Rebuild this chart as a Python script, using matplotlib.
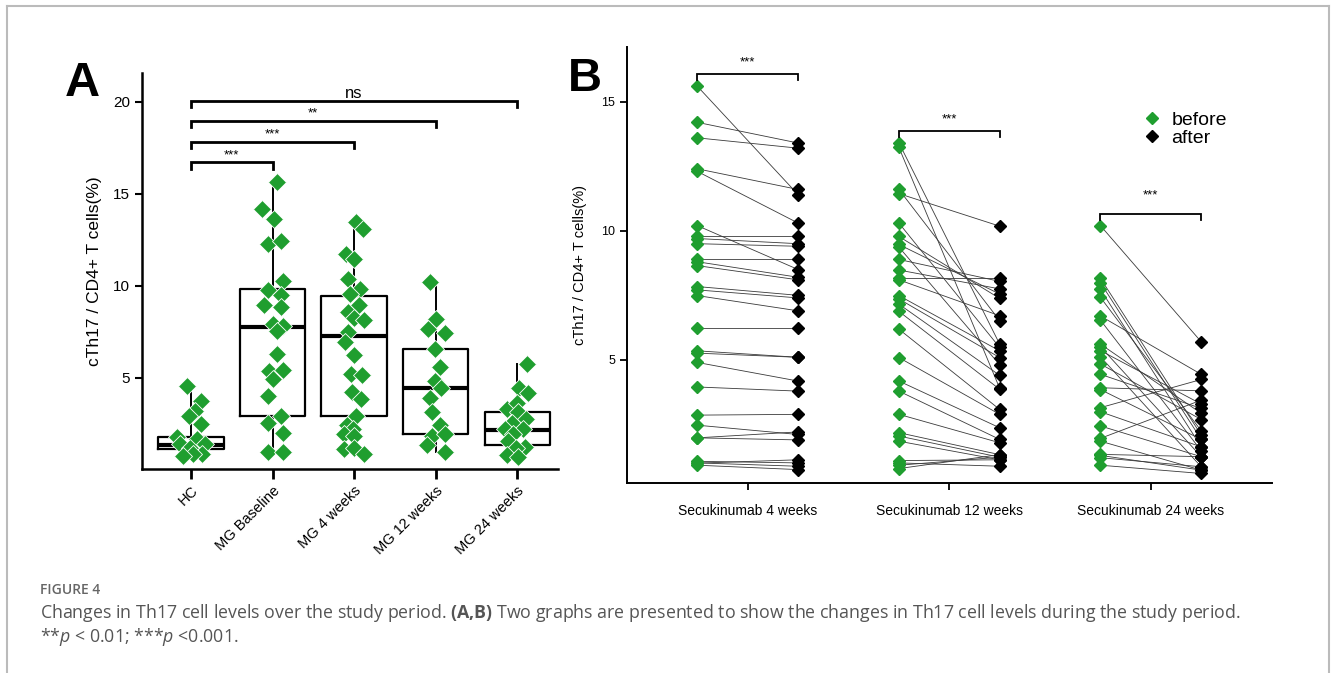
import matplotlib
matplotlib.use('Agg')
import matplotlib.pyplot as plt
import matplotlib.transforms as mtrans
from matplotlib.lines import Line2D

plt.rcParams['font.family'] = ['Liberation Sans', 'DejaVu Sans']
plt.rcParams['mathtext.fontset'] = 'custom'
plt.rcParams['mathtext.rm'] = 'Open Sans'
plt.rcParams['mathtext.it'] = 'Open Sans:italic'
plt.rcParams['mathtext.bf'] = 'Open Sans:bold'

GREEN = '#1f9e2f'

# ---- panel A data ----
groups_a = ['HC', 'MG Baseline', 'MG 4 weeks', 'MG 12 weeks', 'MG 24 weeks']
hc = [4.56, 3.75, 3.2, 2.94, 2.49, 1.77, 1.67, 1.4, 1.4, 1.18, 0.86, 0.86, 0.73]
hc_jit = [-0.05, 0.12, 0.05, -0.03, 0.12, -0.17, 0.07, -0.13, 0.17, -0.01, 0.13, 0.02, -0.1]
baseline = [15.63, 14.19, 13.63, 12.27, 12.42, 10.25, 9.76, 9.52, 8.93, 8.87, 7.9, 7.8,
            7.53, 6.28, 5.37, 5.43, 4.92, 3.99, 2.94, 2.54, 2.0, 0.99, 0.99]
baseline_jit = [0.06, -0.13, 0.02, -0.05, 0.1, 0.13, -0.05, 0.1, -0.1, 0.1, 0.01, 0.13,
                0.06, 0.05, -0.04, 0.13, 0.01, -0.05, 0.1, -0.06, 0.13, -0.05, 0.13]
wk4 = [13.45, 13.1, 11.75, 11.45, 10.34, 9.83, 9.55, 8.93, 8.57, 8.25, 8.12, 7.47, 6.92,
       6.24, 5.19, 5.13, 4.24, 3.84, 2.94, 2.43, 2.2, 1.93, 1.84, 1.15, 1.2, 0.86]
wk4_jit = [0.02, 0.11, -0.1, 0.0, -0.07, 0.07, -0.05, 0.06, -0.07, 0.0, 0.12, -0.07, -0.11,
           0.0, -0.04, 0.1, -0.02, 0.09, 0.02, -0.09, -0.01, -0.12, 0.0, -0.12, 0.0, 0.12]
wk12 = [10.22, 8.21, 7.64, 7.46, 6.55, 5.61, 4.83, 4.47, 3.93, 3.17, 2.43, 1.84, 1.93, 1.34, 0.95]
wk12_jit = [-0.07, 0.01, -0.09, 0.11, -0.01, 0.05, -0.01, 0.07, -0.07, -0.05, 0.05, -0.05,
            0.12, -0.11, 0.11]
wk24 = [5.74, 4.47, 4.2, 3.3, 3.66, 3.12, 2.76, 2.54, 2.22, 2.22, 1.93, 1.57, 1.27, 1.2, 0.8, 0.68]
wk24_jit = [0.12, 0.02, 0.13, -0.12, 0.0, 0.01, 0.11, -0.06, -0.15, 0.07, -0.05, -0.11,
            0.09, -0.01, -0.12, 0.01]

# box statistics
box_q1 = [1.13, 2.92, 2.92, 1.93, 1.35]
box_med = [1.35, 7.76, 7.27, 4.45, 2.18]
box_q3 = [1.77, 9.85, 9.44, 6.55, 3.17]
box_lo = [0.73, 0.99, 0.86, 0.95, 0.68]
box_hi = [4.56, 15.63, 13.45, 10.22, 5.74]

# ---- panel B data (before, after pairs) ----
groups_b = ['Secukinumab 4 weeks', 'Secukinumab 12 weeks', 'Secukinumab 24 weeks']
b4_before = [15.6, 14.2, 13.6, 12.4, 12.3, 10.2, 9.8, 9.7, 9.5, 8.9, 8.8, 8.65, 7.84, 7.71,
             7.49, 6.23, 5.35, 5.26, 4.9, 3.95, 2.86, 2.47, 1.98, 1.98, 1.07, 1.01, 0.92, 1.0]
b4_after = [11.4, 13.4, 13.2, 11.6, 10.3, 8.5, 9.8, 9.5, 9.4, 8.9, 8.2, 8.1, 7.5, 7.4,
            6.9, 6.23, 5.1, 5.1, 4.18, 3.79, 2.89, 2.11, 2.21, 1.9, 1.01, 0.88, 0.75, 1.13]
b12_before = [13.41, 13.23, 11.6, 11.44, 10.3, 9.78, 9.47, 9.37, 8.89, 8.48, 8.17, 8.1, 7.49,
              7.36, 7.16, 6.88, 6.19, 5.09, 4.18, 3.79, 2.89, 2.18, 2.05, 1.85, 1.1, 1.01, 0.92, 0.79]
b12_after = [5.61, 3.9, 6.52, 10.18, 5.48, 7.38, 7.55, 4.81, 8.04, 7.75, 8.17, 6.71, 5.35,
             5.09, 4.4, 3.86, 3.08, 2.89, 2.37, 1.92, 1.79, 1.33, 1.23, 1.13, 1.13, 0.88, 1.23, 1.33]
b24_before = [10.2, 8.16, 7.99, 7.73, 7.42, 6.7, 6.54, 5.61, 5.51, 5.36, 5.12, 4.84, 4.44, 3.92,
              3.85, 3.15, 2.99, 2.44, 1.96, 1.85, 1.34, 1.21, 0.92, 1.3]
b24_after = [5.7, 2.09, 1.92, 1.63, 2.25, 4.44, 1.48, 2.93, 1.25, 3.29, 0.86, 2.69, 3.12, 3.8,
             1.92, 4.24, 1.63, 1.25, 3.44, 0.73, 1.25, 0.86, 0.6, 0.73]


def bracket(ax, x1, x2, y, drop, label, fs, gap, lw):
    ax.plot([x1, x1, x2, x2], [y - drop, y, y, y - drop], color='black', lw=lw,
            solid_joinstyle='miter', clip_on=False)
    ax.text((x1 + x2) / 2, y + gap, label, ha='center', va='bottom', fontsize=fs)


fig = plt.figure(figsize=(13.31, 6.73), dpi=100)

# ---------------- panel A ----------------
axa = fig.add_axes([0.1067, 0.3031, 0.3125, 0.5884])
stats = []
for i in range(len(groups_a)):
    stats.append({'q1': box_q1[i], 'med': box_med[i], 'q3': box_q3[i],
                  'whislo': box_lo[i], 'whishi': box_hi[i], 'fliers': []})
axa.bxp(stats, positions=range(1, 6), widths=0.8, showcaps=False, showfliers=False,
        boxprops=dict(color='black', lw=1.6),
        whiskerprops=dict(color='black', lw=1.4),
        medianprops=dict(color='black', lw=3))
all_vals = [hc, baseline, wk4, wk12, wk24]
all_jit = [hc_jit, baseline_jit, wk4_jit, wk12_jit, wk24_jit]
for i, (vals, jit) in enumerate(zip(all_vals, all_jit)):
    xs = [i + 1 + j for j in jit]
    axa.plot(xs, vals, 'D', color=GREEN, ms=9.5, mec='white', mew=0.6, ls='none', zorder=3)

axa.set_xlim(0.4, 5.5)
axa.set_ylim(0.05, 21.55)
axa.set_yticks([5, 10, 15, 20])
axa.set_xticks(range(1, 6))
axa.set_xticklabels(groups_a, rotation=45, ha='right', rotation_mode='anchor', fontsize=10.5)
axa.tick_params(axis='y', labelsize=11, width=1.5, length=5)
axa.tick_params(axis='x', width=2, length=7)
for s in ['top', 'right']:
    axa.spines[s].set_visible(False)
for s in ['left', 'bottom']:
    axa.spines[s].set_linewidth(1.8)
axa.set_ylabel('cTh17 / CD4+ T cells(%)', fontsize=12.5, labelpad=8)

bracket(axa, 1, 2, 16.7, 0.35, '***', 9.5, 0.05, 2)
bracket(axa, 1, 3, 17.83, 0.35, '***', 9.5, 0.05, 2)
bracket(axa, 1, 4, 18.97, 0.35, '**', 9.5, 0.05, 2)
bracket(axa, 1, 5, 20.05, 0.35, 'ns', 12, 0.0, 2)

fig.text(0.049, 0.858, 'A', fontsize=35, fontweight='bold')

# ---------------- panel B ----------------
axb = fig.add_axes([0.4709, 0.2819, 0.4846, 0.6487])
pairs = [(b4_before, b4_after), (b12_before, b12_after), (b24_before, b24_after)]
for i, (bef, aft) in enumerate(pairs):
    xb, xa = i + 1 - 0.25, i + 1 + 0.25
    for v0, v1 in zip(bef, aft):
        axb.plot([xb, xa], [v0, v1], color='#3a3a3a', lw=0.6, zorder=1)
    axb.plot([xb] * len(bef), bef, 'D', color=GREEN, ms=6.5, ls='none', zorder=2)
    axb.plot([xa] * len(aft), aft, 'D', color='black', ms=6.5, ls='none', zorder=2)

axb.set_xlim(0.4, 3.6)
axb.set_ylim(0.22, 17.13)
axb.set_yticks([5, 10, 15])
axb.set_xticks([1, 2, 3])
axb.set_xticklabels(groups_b, fontsize=10)
shift = mtrans.ScaledTranslation(0.1, 0, fig.dpi_scale_trans)
for lab in axb.get_xticklabels():
    lab.set_transform(lab.get_transform() + shift)
axb.tick_params(axis='x', width=1.3, length=5, pad=10)
axb.tick_params(axis='y', width=1.3, length=5, labelsize=9)
for s in ['top', 'right']:
    axb.spines[s].set_visible(False)
for s in ['left', 'bottom']:
    axb.spines[s].set_linewidth(1.4)
axb.set_ylabel('cTh17 / CD4+ T cells(%)', fontsize=10.5, labelpad=10)

bracket(axb, 0.75, 1.25, 16.08, 0.25, '***', 9.5, 0.2, 1.3)
bracket(axb, 1.75, 2.25, 13.87, 0.25, '***', 9.5, 0.2, 1.3)
bracket(axb, 2.75, 3.25, 10.65, 0.25, '***', 9.5, 0.5, 1.3)

handles = [Line2D([], [], marker='D', color=GREEN, ls='none', ms=6),
           Line2D([], [], marker='D', color='black', ls='none', ms=6)]
axb.legend(handles, ['before', 'after'], loc='upper left', bbox_to_anchor=(0.787, 0.874),
           frameon=False, fontsize=14, handlelength=0.8, handletextpad=0.6,
           labelspacing=0.0, borderpad=0)

fig.text(0.427, 0.865, 'B', fontsize=34, fontweight='bold')

# ---------------- caption & frame ----------------
fig.text(0.03, 0.123, 'FIGURE 4', fontsize=10, color='#666666', family='Open Sans',
         va='center', fontweight='semibold')
fig.text(0.03, 0.089,
         r'Changes in Th17 cell levels over the study period. $\mathbf{(A{,}B)}$ Two graphs are '
         r'presented to show the changes in Th17 cell levels during the study period.',
         fontsize=12.8, color='#555555', family='Open Sans', va='center')
fig.text(0.03, 0.053, r'**$\mathit{p}$ < 0.01; ***$\mathit{p}$ <0.001.',
         fontsize=12.8, color='#555555', family='Open Sans', va='center')

frame_col = '#bbbbbb'
fig.add_artist(Line2D([0.0055, 0.0055], [0.0, 0.991], color=frame_col, lw=1.5))
fig.add_artist(Line2D([0.0055, 0.9985], [0.991, 0.991], color=frame_col, lw=1.5))
fig.add_artist(Line2D([0.9985, 0.9985], [0.0, 0.991], color=frame_col, lw=1.5))

fig.savefig('out.png', dpi=100)
